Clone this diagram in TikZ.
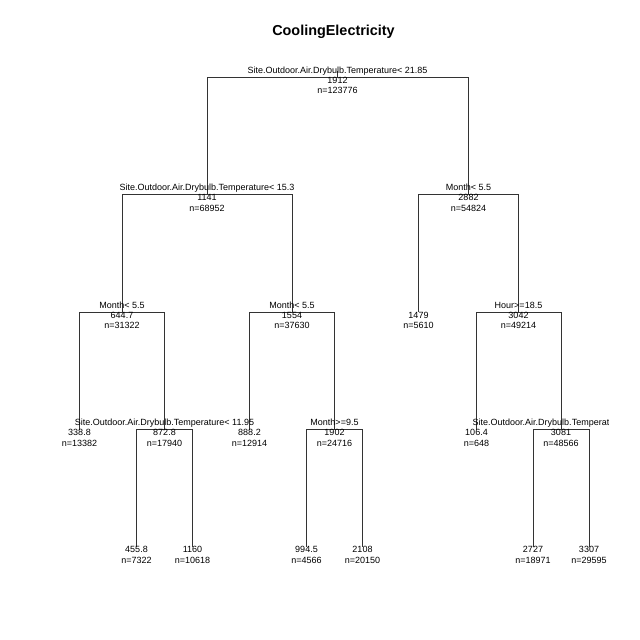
\documentclass[tikz,border=0pt]{standalone}
\usepackage{fontspec}
\setmainfont{Liberation Sans}
\begin{document}
\begin{tikzpicture}[x=1pt,y=-1pt]
	\tikzset{lbl/.style = {inner sep=0pt,anchor=base,font=\fontsize{9}{10}\selectfont}}
	\tikzset{branch/.style = {draw,line width=0.8pt,black!80}}
	\useasboundingbox[fill=white] (0,0) rectangle (640,640);
	\node[inner sep=0pt,anchor=base,font=\fontsize{14.4}{16}\selectfont\bfseries] (title) at (333.5,35.5) {CoolingElectricity};
	% tree positions
	\coordinate (top) at (337.5,71);
	\coordinate (n1) at (337.5,77);
	\coordinate (n2) at (207,194.5);
	\coordinate (n3) at (468.5,194.5);
	\coordinate (n4) at (122,312);
	\coordinate (n5) at (292,312);
	\coordinate (n6) at (418.5,312);
	\coordinate (n7) at (518.5,312);
	\coordinate (n8) at (79.5,429.5);
	\coordinate (n9) at (164.5,429.5);
	\coordinate (n10) at (249.5,429.5);
	\coordinate (n11) at (334.5,429.5);
	\coordinate (n14) at (476.5,429.5);
	\coordinate (n15) at (561,429.5);
	\coordinate (n18) at (136.5,546.5);
	\coordinate (n19) at (192.5,546.5);
	\coordinate (n22) at (306.5,546.5);
	\coordinate (n23) at (362.5,546.5);
	\coordinate (n30) at (533,546.5);
	\coordinate (n31) at (589,546.5);
	% branches
	\path[branch] (top) -- (n1);
	\path[branch] (n1) -| (n2) (n1) -| (n3);
	\path[branch] (n2) -| (n4) (n2) -| (n5);
	\path[branch] (n3) -| (n6) (n3) -| (n7);
	\path[branch] (n4) -| (n8) (n4) -| (n9);
	\path[branch] (n5) -| (n10) (n5) -| (n11);
	\path[branch] (n7) -| (n14) (n7) -| (n15);
	\path[branch] (n9) -| (n18) (n9) -| (n19);
	\path[branch] (n11) -| (n22) (n11) -| (n23);
	\path[branch] (n15) -| (n30) (n15) -| (n31);
	% splits
	\node[lbl] (s1) at ([yshift=4pt]n1) {Site.Outdoor.Air.Drybulb.Temperature< 21.85};
	\node[lbl] (s2) at ([yshift=4pt]n2) {Site.Outdoor.Air.Drybulb.Temperature< 15.3};
	\node[lbl] (s3) at ([yshift=4pt]n3) {Month< 5.5};
	\node[lbl] (s4) at ([yshift=4pt]n4) {Month< 5.5};
	\node[lbl] (s5) at ([yshift=4pt]n5) {Month< 5.5};
	\node[lbl] (s7) at ([yshift=4pt]n7) {Hour>=18.5};
	\node[lbl] (s9) at ([yshift=4pt]n9) {Site.Outdoor.Air.Drybulb.Temperature< 11.95};
	\node[lbl] (s11) at ([yshift=4pt]n11) {Month>=9.5};
	\begin{scope}
		\clip (0,0) rectangle (608,640);
		\node[lbl,anchor=base west] (s15) at (472.5,425.5) {Site.Outdoor.Air.Drybulb.Temperature};
	\end{scope}
	% values
	\node[lbl] (v1) at ([yshift=-6pt]n1) {1912};
	\node[lbl] (c1) at ([yshift=-16.5pt]n1) {n=123776};
	\node[lbl] (v2) at ([yshift=-6pt]n2) {1141};
	\node[lbl] (c2) at ([yshift=-16.5pt]n2) {n=68952};
	\node[lbl] (v3) at ([yshift=-6pt]n3) {2882};
	\node[lbl] (c3) at ([yshift=-16.5pt]n3) {n=54824};
	\node[lbl] (v4) at ([yshift=-6pt]n4) {644.7};
	\node[lbl] (c4) at ([yshift=-16.5pt]n4) {n=31322};
	\node[lbl] (v5) at ([yshift=-6pt]n5) {1554};
	\node[lbl] (c5) at ([yshift=-16.5pt]n5) {n=37630};
	\node[lbl] (v6) at ([yshift=-6pt]n6) {1479};
	\node[lbl] (c6) at ([yshift=-16.5pt]n6) {n=5610};
	\node[lbl] (v7) at ([yshift=-6pt]n7) {3042};
	\node[lbl] (c7) at ([yshift=-16.5pt]n7) {n=49214};
	\node[lbl] (v8) at ([yshift=-6pt]n8) {338.8};
	\node[lbl] (c8) at ([yshift=-16.5pt]n8) {n=13382};
	\node[lbl] (v9) at ([yshift=-6pt]n9) {872.8};
	\node[lbl] (c9) at ([yshift=-16.5pt]n9) {n=17940};
	\node[lbl] (v10) at ([yshift=-6pt]n10) {888.2};
	\node[lbl] (c10) at ([yshift=-16.5pt]n10) {n=12914};
	\node[lbl] (v11) at ([yshift=-6pt]n11) {1902};
	\node[lbl] (c11) at ([yshift=-16.5pt]n11) {n=24716};
	\node[lbl] (v14) at ([yshift=-6pt]n14) {106.4};
	\node[lbl] (c14) at ([yshift=-16.5pt]n14) {n=648};
	\node[lbl] (v15) at ([yshift=-6pt]n15) {3081};
	\node[lbl] (c15) at ([yshift=-16.5pt]n15) {n=48566};
	\node[lbl] (v18) at ([yshift=-6pt]n18) {455.8};
	\node[lbl] (c18) at ([yshift=-16.5pt]n18) {n=7322};
	\node[lbl] (v19) at ([yshift=-6pt]n19) {1160};
	\node[lbl] (c19) at ([yshift=-16.5pt]n19) {n=10618};
	\node[lbl] (v22) at ([yshift=-6pt]n22) {994.5};
	\node[lbl] (c22) at ([yshift=-16.5pt]n22) {n=4566};
	\node[lbl] (v23) at ([yshift=-6pt]n23) {2108};
	\node[lbl] (c23) at ([yshift=-16.5pt]n23) {n=20150};
	\node[lbl] (v30) at ([yshift=-6pt]n30) {2727};
	\node[lbl] (c30) at ([yshift=-16.5pt]n30) {n=18971};
	\node[lbl] (v31) at ([yshift=-6pt]n31) {3307};
	\node[lbl] (c31) at ([yshift=-16.5pt]n31) {n=29595};
\end{tikzpicture}
\end{document}
